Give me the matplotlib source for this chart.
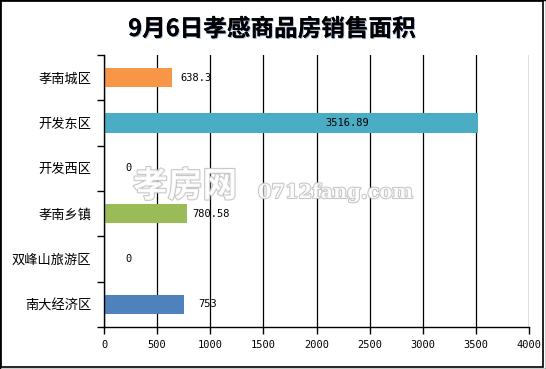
import numpy as np
import matplotlib.pyplot as plt
import matplotlib.patheffects as pe
from matplotlib.patches import Rectangle

plt.rcParams['font.family'] = ['Noto Sans CJK SC', 'DejaVu Sans']

# data, top to bottom as drawn
districts = ['孝南城区', '开发东区', '开发西区', '孝南乡镇', '双峰山旅游区', '南大经济区']
areas = [638.3, 3516.89, 0, 780.58, 0, 753]
value_labels = ['638.3', '3516.89', '0', '780.58', '0', '753']
bar_colors = ['#F79646', '#4BACC6', '#4BACC6', '#9BBB59', '#9BBB59', '#4F81BD']
x_ticks = [0, 500, 1000, 1500, 2000, 2500, 3000, 3500, 4000]

fig = plt.figure(figsize=(5.46, 3.69), dpi=100)
ax = fig.add_axes([104 / 546, 42 / 369, 425 / 546, 272 / 369])

ypos = np.arange(len(districts))
ax.barh(ypos, areas, height=0.42, color=bar_colors, zorder=3)

for y, v, lab in zip(ypos, areas, value_labels):
    if v > 3000:
        # the long bar carries its label inside
        ax.annotate(lab, (v, y), xytext=(-130, 0), textcoords='offset pixels',
                    ha='center', va='center', fontsize=7.5,
                    family='DejaVu Sans Mono', color='black', zorder=5)
    else:
        ax.annotate(lab, (v, y), xytext=(24, 0), textcoords='offset pixels',
                    ha='center', va='center', fontsize=7.5,
                    family='DejaVu Sans Mono', color='black', zorder=5)

ax.set_xlim(0, 4000)
ax.set_ylim(len(districts) - 0.5, -0.5)
ax.set_xticks(x_ticks)
ax.set_xticklabels([str(t) for t in x_ticks], family='DejaVu Sans Mono', fontsize=7.5)
ax.set_yticks(ypos)
ax.set_yticklabels(districts, fontsize=9.5)
ax.set_yticks(np.arange(-0.5, len(districts)), minor=True)

ax.tick_params(axis='y', which='major', length=0, pad=9)
ax.tick_params(axis='y', which='minor', length=5, width=1, direction='out')
ax.tick_params(axis='x', length=5, width=1, direction='out', pad=4)

ax.grid(axis='x', color='black', linewidth=0.9, zorder=1)
for s in ['top', 'right']:
    ax.spines[s].set_visible(False)
for s in ['left', 'bottom']:
    ax.spines[s].set_linewidth(1)
    ax.spines[s].set_zorder(4)

fig.text(272 / 546, 1 - 29 / 369, '9月6日孝感商品房销售面积', ha='center', va='center',
         fontsize=17, fontweight='bold', color='black',
         path_effects=[pe.withSimplePatchShadow(offset=(0.7, -0.7), shadow_rgbFace='#3060C0', alpha=0.45),
                       pe.Normal()])

# watermark (kept just above the 780.58 label)
fig.text(133 / 546, 1 - 186 / 369, '孝房网', fontsize=25, fontweight='bold', color='white',
         alpha=0.9, va='center', zorder=10,
         path_effects=[pe.withStroke(linewidth=1.5, foreground='#c0c0c0')])
fig.text(258 / 546, 1 - 193 / 369, '0712fang.com', fontsize=14, family='DejaVu Serif',
         fontweight='bold', color='white', alpha=0.9, va='center', zorder=10,
         path_effects=[pe.withStroke(linewidth=1.5, foreground='#c0c0c0')])

# chart frame with heavier right/bottom edge
fig.patches.append(Rectangle((1 / 546, 2 / 369), 542 / 546, 366 / 369, transform=fig.transFigure,
                             fill=False, edgecolor='black', linewidth=1.2))
fig.patches.append(Rectangle((0, 0), 1, 1, transform=fig.transFigure,
                             fill=False, edgecolor='black', linewidth=1))

fig.savefig('out.png', dpi=100)
